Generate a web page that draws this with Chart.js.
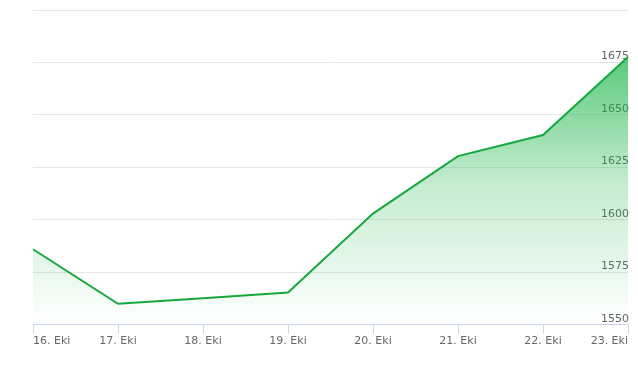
<!DOCTYPE html>
<html>
<head>
<meta charset="utf-8">
<script src="https://cdn.jsdelivr.net/npm/chart.js@4"></script>
<style>
    html, body { margin: 0; padding: 0; background: #fff; }
    #wrap { width: 638px; height: 370px; }
</style>
</head>
<body>
<div id="wrap"><canvas id="price-chart" width="638" height="370"></canvas></div>
<script>
// Data
const days = ['16. Eki', '17. Eki', '18. Eki', '19. Eki', '20. Eki', '21. Eki', '22. Eki', '23. Eki'];
const prices = [1586, 1560, 1562.7, 1565.4, 1603, 1630.4, 1640.4, 1677.6];
const yTicks = [1550, 1575, 1600, 1625, 1650, 1675, 1700];
const hiddenTicks = [1700];

// Gradient fill under the line
function areaFill(context) {
    const { ctx, chartArea } = context.chart;
    if (!chartArea) return 'rgba(25,175,70,0.4)';
    const g = ctx.createLinearGradient(0, chartArea.top, 0, chartArea.bottom);
    g.addColorStop(0, 'rgba(22,180,68,0.88)');
    g.addColorStop(0.55, 'rgba(22,180,68,0.25)');
    g.addColorStop(1, 'rgba(22,180,68,0)');
    return g;
}

// Initialize Chart
document.addEventListener('DOMContentLoaded', () => {
    const ctx = document.getElementById('price-chart').getContext('2d');
    new Chart(ctx, {
        type: 'line',
        data: {
            labels: days,
            datasets: [{
                data: prices,
                borderColor: '#16a83c',
                borderWidth: 2,
                backgroundColor: areaFill,
                fill: 'start',
                pointRadius: 0,
                tension: 0,
            }],
        },
        options: {
            responsive: false,
            animation: false,
            layout: { padding: { left: 33, right: 8, top: 10, bottom: 21 } },
            plugins: { legend: { display: false }, tooltip: { enabled: false } },
            scales: {
                x: {
                    offset: false,
                    grid: { drawOnChartArea: false, drawTicks: true, tickLength: 9, color: '#ccd6eb' },
                    border: { display: true, color: '#ccd6eb' },
                    ticks: {
                        align: 'inner',
                        maxRotation: 0,
                        autoSkip: false,
                        padding: 1,
                        color: '#666',
                        font: { family: 'DejaVu Sans', size: 11 },
                    },
                },
                y: {
                    position: 'right',
                    min: yTicks[0],
                    max: yTicks[yTicks.length - 1],
                    afterBuildTicks: scale => {
                        scale.ticks = yTicks.map(v => ({ value: v }));
                    },
                    grid: { color: '#e6e6e6', drawTicks: false },
                    border: { display: false },
                    ticks: {
                        mirror: true,
                        padding: 1,
                        labelOffset: -6,
                        color: '#666',
                        font: { family: 'DejaVu Sans', size: 11 },
                        callback: value => hiddenTicks.includes(value) ? '' : value,
                    },
                },
            },
        },
    });
});
</script>
</body>
</html>
